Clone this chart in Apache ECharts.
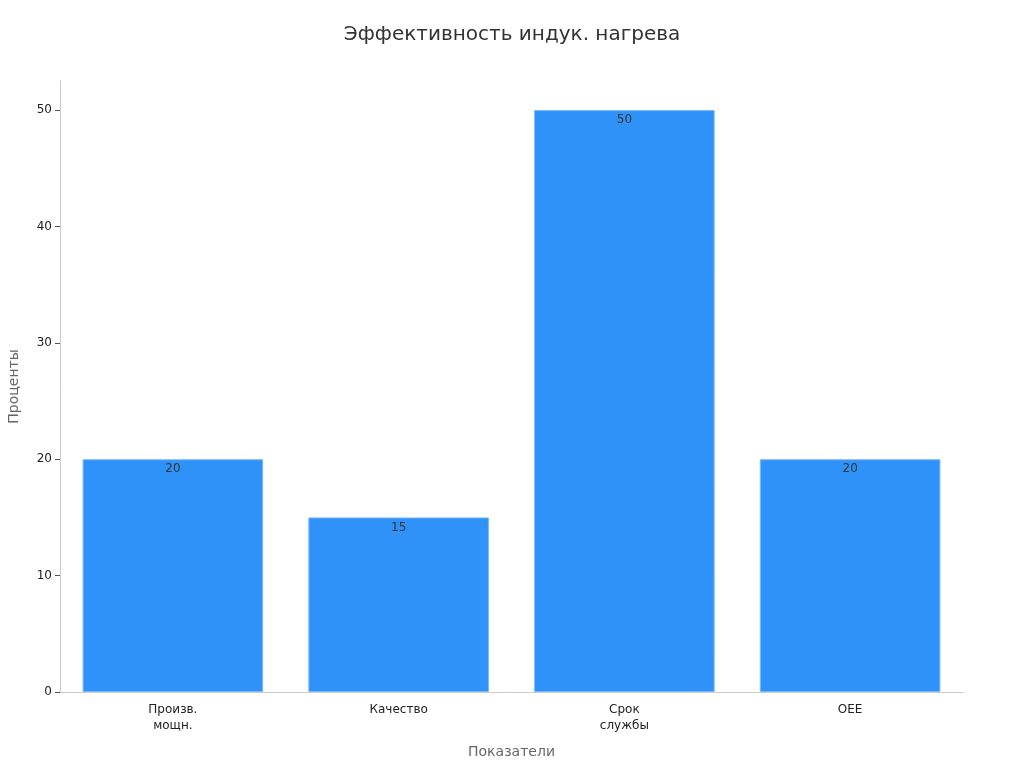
<!DOCTYPE html>
<html><head><meta charset="utf-8">
<script src="https://cdn.jsdelivr.net/npm/echarts@6/dist/echarts.min.js"></script>
<style>html,body{margin:0;padding:0;background:#fff}#c{width:1024px;height:768px}</style>
</head><body><div id="c"></div>
<script>
const categories = ['Произв.\nмощн.', 'Качество', 'Срок\nслужбы', 'OEE'];
const values = [20, 15, 50, 20];
const yTicks = [0, 10, 20, 30, 40, 50];

const chart = echarts.init(document.getElementById('c'));
chart.setOption({
  textStyle: { fontFamily: 'DejaVu Sans' },
  title: { text: 'Эффективность индук. нагрева', left: 'center', top: 20,
    textStyle: { fontSize: 20, fontWeight: 'normal', color: '#333', fontFamily: 'DejaVu Sans' } },
  grid: { left: 60, right: 61, top: 81, bottom: 76, containLabel: false, outerBoundsMode: 'none' },
  xAxis: {
    type: 'category', data: categories,
    name: 'Показатели', nameLocation: 'middle', nameGap: 53,
    nameTextStyle: { fontSize: 14, color: '#666' },
    axisLine: { lineStyle: { color: '#ccc' } },
    axisTick: { alignWithLabel: true, lineStyle: { color: '#888' }, length: 5 },
    axisLabel: { color: '#222', fontSize: 12, margin: 10, lineHeight: 16 }
  },
  yAxis: {
    type: 'value', min: 0, max: 52.5, interval: 10,
    name: 'Проценты', nameLocation: 'middle', nameGap: 39,
    nameTextStyle: { fontSize: 14, color: '#666' },
    axisLine: { show: true, lineStyle: { color: '#ccc' } },
    axisTick: { show: true, lineStyle: { color: '#555' }, length: 5 },
    axisLabel: { color: '#222', fontSize: 12, margin: 8, showMaxLabel: false,
      formatter: v => yTicks.includes(v) ? String(v) : '' },
    splitLine: { show: false }
  },
  series: [{
    type: 'bar', data: values, barWidth: '80%',
    itemStyle: { color: '#2f92f9', borderColor: '#7ab8f5', borderWidth: 1 },
    label: { show: true, position: 'insideTop', distance: 4, color: '#333', fontSize: 12 }
  }]
});
</script></body></html>
